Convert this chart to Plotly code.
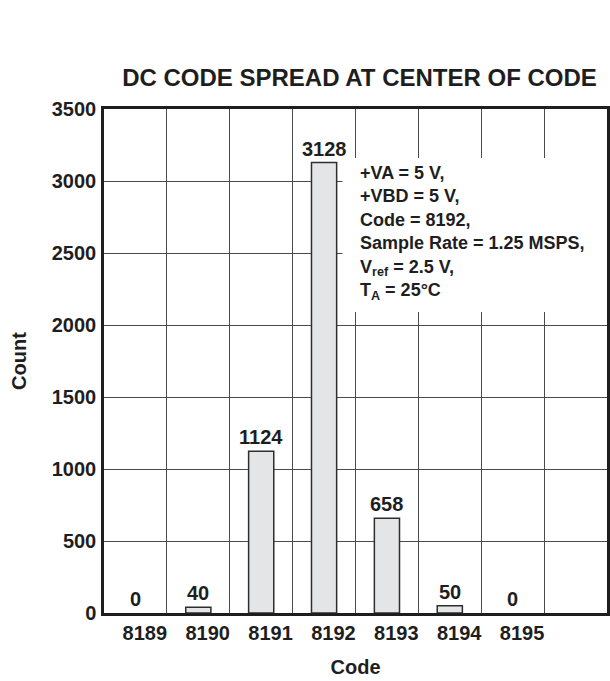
import plotly.graph_objects as go

codes = [8189, 8190, 8191, 8192, 8193, 8194, 8195]
counts = [0, 40, 1124, 3128, 658, 50, 0]
tick_labels = ["8189", "8190", "8191", "8192", "8193", "8194", "8195"]
y_ticks = [0, 500, 1000, 1500, 2000, 2500, 3000, 3500]

conditions = ["+VA = 5 V,", "+VBD = 5 V,", "Code = 8192,", "Sample Rate = 1.25 MSPS,",
              "V<sub>ref</sub> = 2.5 V,", "T<sub>A</sub> = 25°C"]

FONT = "Liberation Sans, Arial, Helvetica, sans-serif"
INK = "#1e1e1e"

fig = go.Figure()
fig.add_trace(go.Bar(
    x=codes, y=counts, width=0.4,
    marker=dict(color="#e4e5e7",
                line=dict(color="#2e2e2e", width=[0 if v == 0 else 1.5 for v in counts])),
    hoverinfo="skip",
))

for c, v in zip(codes, counts):
    fig.add_annotation(x=c, y=v, xref="x", yref="y", text=f"<b>{v}</b>",
                       showarrow=False, yanchor="bottom", yshift=1,
                       font=dict(family=FONT, size=20, color=INK))

# white box behind the conditions text (hides grid lines)
fig.add_shape(type="rect", xref="paper", yref="paper", x0=0.474, x1=1.0,
              y0=0.597, y1=0.903, fillcolor="white", line=dict(width=0), layer="above")

fig.add_annotation(x=0.504, y=0.753, xref="paper", yref="paper",
                   text="<b>" + "<br>".join(conditions) + "</b>",
                   showarrow=False, xanchor="left", yanchor="middle", align="left",
                   font=dict(family=FONT, size=18, color=INK))

fig.update_layout(
    width=610, height=681,
    margin=dict(l=104, r=0, t=109, b=68),
    paper_bgcolor="white", plot_bgcolor="white",
    showlegend=False,
    font=dict(family=FONT, color=INK),
    title=dict(text="<b>DC CODE SPREAD AT CENTER OF CODE</b>", x=0.508, xref="paper",
               xanchor="center", y=1 - 78 / 681, yref="container", yanchor="middle",
               font=dict(family=FONT, size=24, color=INK)),
    xaxis=dict(
        range=[8188.5, 8196.5], tickmode="array",
        tickvals=[c + 0.15 for c in codes], ticktext=[f"<b>{t}</b>" for t in tick_labels],
        tickfont=dict(family=FONT, size=20, color=INK), ticks="", ticklabelstandoff=0,
        showgrid=False, zeroline=False,
        minor=dict(tickmode="linear", tick0=8188.5, dtick=1, showgrid=True,
                   gridcolor="#4a4a4a", gridwidth=1.2, ticks=""),
        showline=True, linecolor=INK, linewidth=2.5, mirror=True,
        title=dict(text="<b>Code</b>", font=dict(family=FONT, size=20, color=INK), standoff=18),
    ),
    yaxis=dict(
        range=[0, 3500], tickmode="array", tickvals=y_ticks,
        ticktext=[f"<b>{t}</b>" for t in y_ticks],
        tickfont=dict(family=FONT, size=20, color=INK), ticks="", ticklabelstandoff=1,
        showgrid=True, gridcolor="#4a4a4a", gridwidth=1.2, zeroline=False,
        showline=True, linecolor=INK, linewidth=2.5, mirror=True,
        title=dict(text="<b>Count</b>", font=dict(family=FONT, size=20, color=INK), standoff=20),
    ),
)

fig.write_html("out.html", config={"displayModeBar": False},
               post_script="document.body.style.margin='0';")
